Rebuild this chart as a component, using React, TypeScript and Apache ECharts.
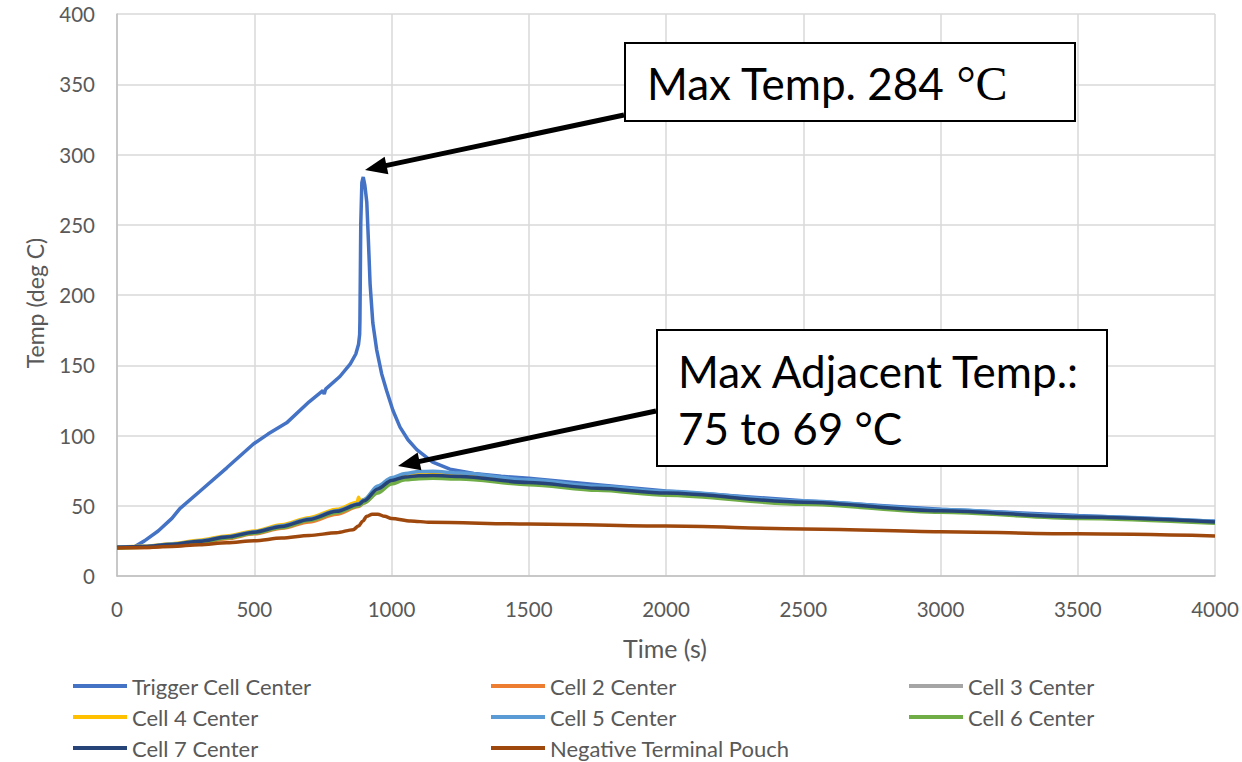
import React, { useEffect, useRef } from "react";
import * as echarts from "echarts";

const xTicks = { min: 0, max: 4000, interval: 500 };
const yTicks = { min: 0, max: 400, interval: 50 };
const xTitle = "Time (s)";
const yTitle = "Temp (deg C)";

const seriesNames = [
  "Trigger Cell Center",
  "Cell 2 Center",
  "Cell 3 Center",
  "Cell 4 Center",
  "Cell 5 Center",
  "Cell 6 Center",
  "Cell 7 Center",
  "Negative Terminal Pouch",
];
const seriesColors = ["#4472C4", "#ED7D31", "#A5A5A5", "#FFC000", "#5B9BD5", "#70AD47", "#264478", "#9E480E"];

const trigger = [
  [0, 20.5], [65, 21], [100, 25], [150, 32], [200, 41], [229, 48], [300, 60], [400, 77], [497, 94],
  [550, 101], [618, 109], [700, 124], [750, 132], [755, 129.5], [760, 133], [812, 142], [850, 151],
  [870, 158], [880, 165], [884, 172], [885, 182], [888, 250], [892, 280], [897, 284], [903, 278],
  [910, 266], [916, 238], [922, 208], [932, 180], [946, 161], [964, 144], [982, 132], [1005, 118],
  [1031, 106], [1060, 97], [1092, 90], [1150, 81], [1213, 76], [1300, 73], [1400, 71], [1500, 69.5],
  [1750, 65], [2000, 60.5], [2500, 53.5], [3000, 47.5], [3500, 43], [4000, 39],
];
const cell2 = [
  [0, 20], [100, 20.3], [200, 21.5], [300, 23.5], [400, 26.5], [500, 30], [600, 34], [700, 38.5],
  [800, 44], [880, 49.5], [900, 52], [950, 60], [1000, 66.5], [1050, 70], [1100, 71.5], [1150, 71.8],
  [1250, 71], [1500, 67], [1750, 62.5], [2000, 59], [2500, 52.3], [3000, 46.3], [3500, 41.8], [4000, 38.3],
];
const cell3 = [
  [0, 20.5], [100, 21], [200, 22.5], [300, 24.5], [400, 27.5], [500, 31], [600, 35], [700, 40],
  [800, 45.5], [880, 50.5], [900, 53], [950, 61], [1000, 67.5], [1050, 70.5], [1100, 71.5], [1150, 71.7],
  [1250, 71], [1500, 66.5], [1750, 62.5], [2000, 59], [2500, 52.3], [3000, 46.3], [3500, 41.8], [4000, 38.3],
];
const cell4 = [
  [0, 20.5], [100, 21.2], [200, 23], [300, 25.5], [400, 28.5], [500, 32], [600, 36.5], [700, 41.5],
  [800, 47.5], [875, 52.5], [880, 56], [886, 53.5], [900, 54.5], [950, 63], [1000, 69.5], [1050, 72],
  [1100, 73], [1150, 73], [1250, 72], [1500, 67.5], [1750, 63], [2000, 59.5], [2500, 52.5], [3000, 46.5],
  [3500, 42], [4000, 38.5],
];
const cell5 = [
  [0, 20.5], [100, 21], [200, 22.8], [300, 25], [400, 28], [500, 31.5], [600, 35.8], [700, 40.8],
  [800, 46.5], [880, 51.5], [900, 54.5], [950, 64], [1000, 70], [1050, 73], [1100, 74.3], [1150, 74.5],
  [1250, 73.3], [1500, 68.5], [1750, 64], [2000, 60.3], [2500, 53.3], [3000, 47.3], [3500, 42.6], [4000, 39],
];
const cell6 = [
  [0, 20], [100, 20.5], [200, 22], [300, 24], [400, 27], [500, 30.5], [600, 34.5], [700, 39.5],
  [800, 45], [880, 50], [900, 52], [950, 59], [1000, 65.5], [1050, 68.5], [1100, 69.3], [1150, 69.5],
  [1250, 69], [1500, 65], [1750, 61], [2000, 57.5], [2500, 51], [3000, 45.3], [3500, 41], [4000, 37.5],
];
const cell7 = [
  [0, 20.5], [100, 21], [200, 22.5], [300, 24.7], [400, 27.7], [500, 31.2], [600, 35.3], [700, 40.3],
  [800, 46], [880, 51], [900, 53.5], [950, 62], [1000, 68], [1050, 70.5], [1100, 71.3], [1150, 71.5],
  [1250, 70.8], [1500, 66.5], [1750, 62.5], [2000, 59], [2500, 52.5], [3000, 46.5], [3500, 42], [4000, 38.5],
];
const negPouch = [
  [0, 20], [100, 20.3], [200, 21], [300, 22.3], [400, 23.7], [500, 25.1], [600, 27], [700, 28.8],
  [800, 30.8], [860, 33], [880, 35.5], [895, 39], [910, 42.5], [930, 44], [950, 44], [975, 42.5],
  [1000, 41], [1070, 39.2], [1140, 38.2], [1500, 37], [2000, 35.5], [2500, 33.5], [3000, 31.5],
  [3500, 30], [4000, 28.5],
];
const seriesData = [trigger, cell2, cell3, cell4, cell5, cell6, cell7, negPouch];

const legendColumns = [
  [seriesNames[0], seriesNames[3], seriesNames[6]],
  [seriesNames[1], seriesNames[4], seriesNames[7]],
  [seriesNames[2], seriesNames[5]],
];
const legendLeft = [73, 491, 909];

const annotation1 = "Max Temp. 284 ";
const annotation1Unit = "°C";
const annotation2a = "Max Adjacent Temp.:";
const annotation2b = "75 to 69 °C";

function arrow(x1: number, y1: number, x2: number, y2: number) {
  const dx = x2 - x1;
  const dy = y2 - y1;
  const len = Math.sqrt(dx * dx + dy * dy);
  const ux = dx / len;
  const uy = dy / len;
  const headLen = 22;
  const half = 9;
  const bx = x2 - headLen * ux;
  const by = y2 - headLen * uy;
  const nx = -uy;
  const ny = ux;
  return [
    {
      type: "line",
      z: 100,
      shape: { x1, y1, x2: bx + ux * 2, y2: by + uy * 2 },
      style: { stroke: "#000", lineWidth: 5 },
    },
    {
      type: "polygon",
      z: 100,
      shape: {
        points: [
          [x2, y2],
          [bx + half * nx, by + half * ny],
          [bx - half * nx, by - half * ny],
        ],
      },
      style: { fill: "#000" },
    },
  ];
}

export default function App() {
  const ref = useRef<HTMLDivElement>(null);
  useEffect(() => {
    if (!ref.current) return;
    const chart = echarts.init(ref.current, null, { renderer: "svg" });
    const font = "Lato";
    chart.setOption({
      animation: false,
      backgroundColor: "#fff",
      textStyle: { fontFamily: font },
      grid: { left: 117, right: 27, top: 14, bottom: 186 },
      xAxis: {
        type: "value",
        min: xTicks.min,
        max: xTicks.max,
        interval: xTicks.interval,
        axisLine: { show: true, lineStyle: { color: "#BFBFBF", width: 1.5 } },
        axisTick: { show: false },
        axisLabel: {
          fontSize: 20.5,
          color: "#595959",
          margin: 22,
          fontFamily: font,
          formatter: (v: number) => String(v),
        },
        splitLine: { show: true, lineStyle: { color: "#D9D9D9", width: 1.5 } },
      },
      yAxis: {
        type: "value",
        min: yTicks.min,
        max: yTicks.max,
        interval: yTicks.interval,
        axisLine: { show: true, lineStyle: { color: "#BFBFBF", width: 1.5 } },
        axisTick: { show: false },
        axisLabel: {
          fontSize: 20.5,
          color: "#595959",
          margin: 22,
          fontFamily: font,
          formatter: (v: number) => String(v),
        },
        splitLine: { show: true, lineStyle: { color: "#D9D9D9", width: 1.5 } },
      },
      legend: legendColumns.map((col, i) => ({
        data: col,
        orient: "vertical",
        left: legendLeft[i],
        top: 675,
        padding: 0,
        icon: "rect",
        itemWidth: 54,
        itemHeight: 4,
        itemGap: 9,
        selectedMode: false,
        textStyle: { fontSize: 22, color: "#595959", fontFamily: font, lineHeight: 22 },
      })),
      series: seriesNames.map((name, i) => ({
        name,
        type: "line",
        data: seriesData[i],
        showSymbol: false,
        symbol: "none",
        color: seriesColors[i],
        lineStyle: { width: 3.5, color: seriesColors[i] },
        smooth: i === 0 ? false : 0.3,
        smoothMonotone: "x",
        z: 2 + i,
      })),
      graphic: [
        {
          type: "text",
          z: 50,
          x: 665,
          y: 648,
          style: {
            text: xTitle,
            fontSize: 25,
            fontFamily: font,
            fill: "#595959",
            align: "center",
            verticalAlign: "middle",
          },
        },
        {
          type: "text",
          z: 50,
          x: 35,
          y: 303,
          rotation: Math.PI / 2,
          style: {
            text: yTitle,
            fontSize: 23,
            fontFamily: font,
            fill: "#595959",
            align: "center",
            verticalAlign: "middle",
          },
        },
        {
          type: "rect",
          z: 100,
          shape: { x: 625, y: 43, width: 450, height: 78 },
          style: { fill: "#fff", stroke: "#000", lineWidth: 2 },
        },
        {
          type: "text",
          z: 101,
          x: 647,
          y: 83,
          style: {
            text: "{a|" + annotation1 + "}{b|" + annotation1Unit + "}",
            verticalAlign: "middle",
            rich: {
              a: { fontSize: 44, fontFamily: font, fill: "#000" },
              b: { fontSize: 48, fontFamily: "Liberation Serif", fill: "#000" },
            },
          },
        },
        {
          type: "rect",
          z: 100,
          shape: { x: 657, y: 330, width: 450, height: 136 },
          style: { fill: "#fff", stroke: "#000", lineWidth: 2 },
        },
        {
          type: "text",
          z: 101,
          x: 678,
          y: 371,
          style: { text: annotation2a, fontSize: 44, fontFamily: font, fill: "#000", verticalAlign: "middle" },
        },
        {
          type: "text",
          z: 101,
          x: 678,
          y: 428,
          style: { text: annotation2b, fontSize: 44, fontFamily: font, fill: "#000", verticalAlign: "middle" },
        },
        ...arrow(624, 115, 365, 170),
        ...arrow(656, 411, 398, 466),
      ],
    });
    return () => chart.dispose();
  }, []);
  return <div ref={ref} style={{ width: 1242, height: 762, position: "absolute", left: 0, top: 0 }} />;
}
